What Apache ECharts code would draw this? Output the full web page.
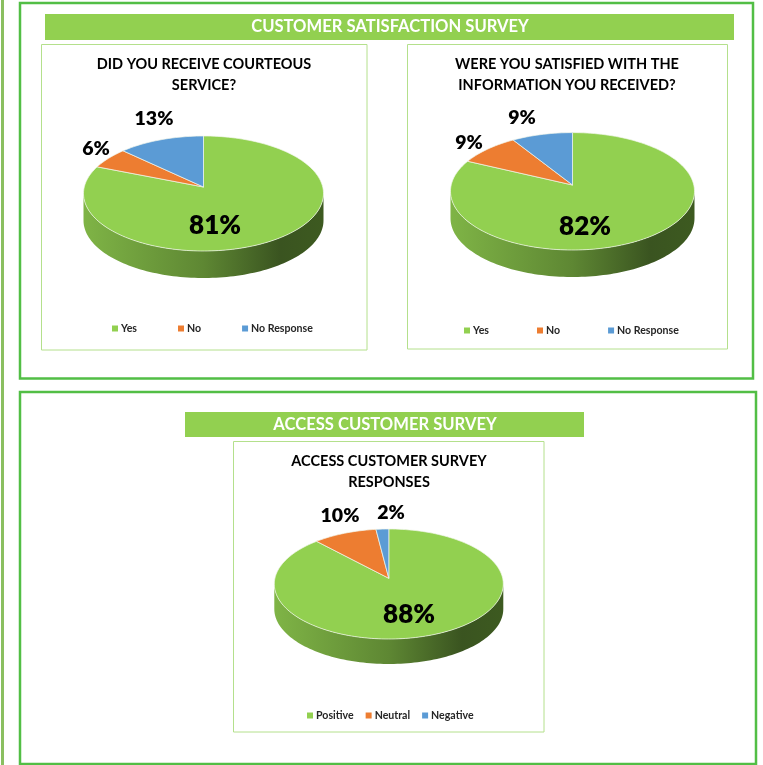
<!DOCTYPE html>
<html>
<head>
    <meta charset="utf-8">
    <title>Customer Survey</title>
    <script src="https://cdn.jsdelivr.net/npm/echarts@6/dist/echarts.min.js"></script>
    <style>
        html, body {margin: 0; padding: 0; background: #fff;}
        #main {width: 763px; height: 765px;}
    </style>
</head>
<body>
<div id="main"></div>
<script type="text/javascript">
    // values
    var satisfactionCategories = ['Yes', 'No', 'No Response'];
    var accessCategories = ['Positive', 'Neutral', 'Negative'];
    var courteousValues = [81, 6, 13];
    var informationValues = [82, 9, 9];
    var accessValues = [88, 10, 2];

    var courteousTitle = 'DID YOU RECEIVE COURTEOUS\nSERVICE?';
    var informationTitle = 'WERE YOU SATISFIED WITH THE\nINFORMATION YOU RECEIVED?';
    var accessTitle = 'ACCESS CUSTOMER SURVEY\nRESPONSES';
    var bandTitles = ['CUSTOMER SATISFACTION SURVEY', 'ACCESS CUSTOMER SURVEY'];

    var FONT = 'Lato, "Noto Sans", sans-serif';
    var sliceColors = ['#92D050', '#ED7D31', '#5B9BD5'];

    // top ellipse of each pie, apexY is where the slices meet (perspective)
    var pies = [
        {
            values: courteousValues, categories: satisfactionCategories,
            cx: 203.5, cy: 193.5, rx: 120, ry: 57.5, apexY: 187, depth: 27,
            labels: [[215, 226, 26], [96, 149, 19.5], [154, 119, 19.5]]
        },
        {
            values: informationValues, categories: satisfactionCategories,
            cx: 572.5, cy: 191.3, rx: 122, ry: 58.7, apexY: 185, depth: 27,
            labels: [[585, 227, 26], [469, 143, 19.5], [522, 118, 19.5]]
        },
        {
            values: accessValues, categories: accessCategories,
            cx: 388.8, cy: 584, rx: 114.5, ry: 55, apexY: 578.3, depth: 25,
            labels: [[409, 615, 26], [340, 516, 19.5], [391, 513, 19.5]]
        }
    ];

    // ray from the apex at the true pie angle, returned as angle on the ellipse
    function ellipseAngle(pie, theta) {
        var k = (pie.apexY - pie.cy) / pie.ry;
        var c = Math.cos(theta), s = Math.sin(theta);
        var t = k * c + Math.sqrt(k * k * c * c - k * k + 1);
        var phi = Math.atan2(t * s, t * c - k);
        if (phi < 0 || (phi < 1e-9 && theta > 1)) {
            phi += Math.PI * 2;
        }
        return phi;
    }

    function arcPoints(pie, from, to, dy) {
        var pts = [];
        var n = Math.max(2, Math.ceil((to - from) / 0.03));
        for (var i = 0; i <= n; i++) {
            var a = from + (to - from) * i / n;
            pts.push([pie.cx + pie.rx * Math.sin(a), pie.cy - pie.ry * Math.cos(a) + dy]);
        }
        return pts;
    }

    function makeRenderItem(pie, index) {
        return function () {
            var total = pie.values.reduce(function (a, b) {return a + b;}, 0);
            var before = 0;
            for (var i = 0; i < index; i++) {
                before += pie.values[i];
            }
            var start = ellipseAngle(pie, before / total * Math.PI * 2);
            var end = ellipseAngle(pie, (before + pie.values[index]) / total * Math.PI * 2);
            var children = [];

            // side wall, only the part of the slice on the front half
            var wallFrom = Math.max(start, Math.PI / 2);
            var wallTo = Math.min(end, Math.PI * 1.5);
            if (wallTo > wallFrom) {
                var top = arcPoints(pie, wallFrom, wallTo, 0);
                var bottom = arcPoints(pie, wallFrom, wallTo, pie.depth).reverse();
                children.push({
                    type: 'polygon',
                    shape: {points: top.concat(bottom)},
                    style: {
                        fill: new echarts.graphic.LinearGradient(0, 0, 1, 0, [
                            {offset: 0, color: '#7FB446'},
                            {offset: 0.5, color: '#5E8733'},
                            {offset: 0.82, color: '#3A5420'},
                            {offset: 1, color: '#3D5A20'}
                        ]),
                        stroke: null
                    }
                });
            }

            // top face
            children.push({
                type: 'polygon',
                shape: {points: [[pie.cx, pie.apexY]].concat(arcPoints(pie, start, end, 0))},
                style: {fill: sliceColors[index], stroke: '#F2F7EC', lineWidth: 0.7}
            });

            var label = pie.labels[index];
            children.push({
                type: 'text',
                z2: 10,
                style: {
                    text: pie.values[index] + '%',
                    x: label[0],
                    y: label[1],
                    align: 'center',
                    verticalAlign: 'middle',
                    fill: '#000',
                    font: '800 ' + label[2] + 'px ' + FONT
                }
            });
            return {type: 'group', children: children};
        };
    }

    var series = [];
    pies.forEach(function (pie) {
        pie.values.forEach(function (v, i) {
            series.push({
                type: 'custom',
                name: pie.categories[i],
                coordinateSystem: 'none',
                silent: true,
                animation: false,
                itemStyle: {color: sliceColors[i]},
                data: [v],
                renderItem: makeRenderItem(pie, i)
            });
        });
    });

    function frame(x, y, w, h, color, lineWidth) {
        return {
            type: 'rect',
            silent: true,
            z: -1,
            shape: {x: x, y: y, width: w, height: h},
            style: {fill: 'none', stroke: color, lineWidth: lineWidth}
        };
    }

    function band(x, y, w, h) {
        return {
            type: 'rect',
            silent: true,
            z: -1,
            shape: {x: x, y: y, width: w, height: h},
            style: {fill: '#92D050'}
        };
    }

    function titleAt(text, x, y, size, color) {
        return {
            text: text,
            left: x,
            top: y,
            textAlign: 'center',
            padding: 0,
            textStyle: {
                color: color,
                fontFamily: FONT,
                fontWeight: 'bold',
                fontSize: size,
                lineHeight: 21
            }
        };
    }

    function legendAt(names, x, y, gap) {
        return {
            data: names,
            left: x,
            top: y,
            padding: 0,
            icon: 'rect',
            itemWidth: 6,
            itemHeight: 6,
            itemGap: gap,
            selectedMode: false,
            textStyle: {
                color: '#262626',
                fontFamily: FONT,
                fontWeight: 'bold',
                fontSize: 10.6,
                padding: [0, 0, 0, -2]
            }
        };
    }

    var chart = echarts.init(document.getElementById('main'));
    chart.setOption({
        animation: false,
        title: [
            titleAt(bandTitles[0], 390, 16, 16.6, '#fff'),
            titleAt(bandTitles[1], 385, 414, 16.6, '#fff'),
            titleAt(courteousTitle, 204, 54, 14.5, '#000'),
            titleAt(informationTitle, 567, 54, 14.5, '#000'),
            titleAt(accessTitle, 389, 451, 14.5, '#000')
        ],
        legend: [
            legendAt(satisfactionCategories, 112, 323, 41),
            legendAt(satisfactionCategories, 464, 325, 48),
            legendAt(accessCategories, 307, 710, 12)
        ],
        graphic: [
            frame(2, -5, 1, 769, '#8ABF60', 2),
            frame(20, 3, 733, 375.5, '#52BE45', 2.5),
            frame(20, 392, 736, 372, '#52BE45', 2.5),
            band(45, 14, 689, 26),
            band(185, 412, 399, 25),
            frame(41.5, 44.5, 325.5, 305.5, '#B4E08C', 1),
            frame(407.5, 44.5, 320, 304.5, '#B4E08C', 1),
            frame(233.5, 441.5, 310.5, 290.5, '#B4E08C', 1)
        ],
        series: series
    });
</script>
</body>
</html>
